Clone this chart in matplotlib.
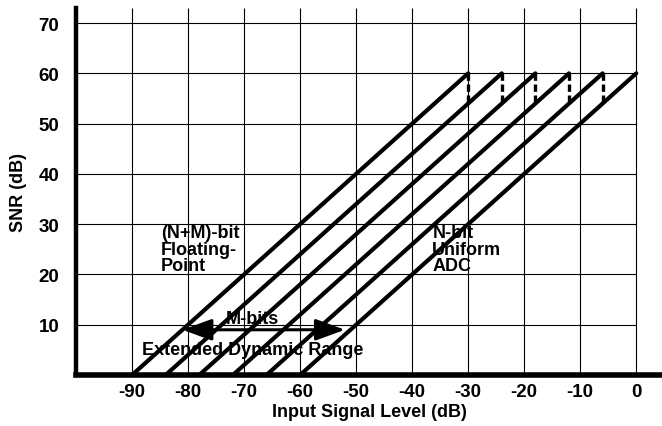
import matplotlib.pyplot as plt

# SNR vs input level for uniform ADCs of decreasing resolution (1-bit = 6 dB steps)
line_start = [-90, -84, -78, -72, -66, -60]   # input level where SNR = 0
line_end = [-30, -24, -18, -12, -6, 0]        # input level where SNR = 60
snr_low = [0, 0, 0, 0, 0, 0]
snr_high = [60, 60, 60, 60, 60, 60]

# dashed drops between adjacent curves at full scale
dash_x = [-30, -24, -18, -12, -6]
dash_top = [60, 60, 60, 60, 60]
dash_bottom = [54, 54, 54, 54, 54]

# M-bits extended range arrow
arrow_left, arrow_right, arrow_y = -81, -52, 9

xticks = [-90, -80, -70, -60, -50, -40, -30, -20, -10, 0]
yticks = [10, 20, 30, 40, 50, 60, 70]

plt.rcParams['font.family'] = ['Liberation Sans', 'DejaVu Sans']
plt.rcParams['font.weight'] = 'bold'
plt.rcParams['axes.unicode_minus'] = False

fig = plt.figure(figsize=(6.62, 4.27), dpi=100)
ax = fig.add_axes([0.1148, 0.1194, 0.8852, 0.8595])
ax.set_xlim(-100, 4.6)
ax.set_ylim(0, 73)

# grid drawn only inside the -100..0 / 0..73 box
ax.hlines(yticks, -100, 0, colors='black', lw=0.8, zorder=1)
ax.vlines(xticks, 0, 73, colors='black', lw=0.8, zorder=1)

for x0, x1, y0, y1 in zip(line_start, line_end, snr_low, snr_high):
    ax.plot([x0, x1], [y0, y1], color='black', lw=3.0, solid_capstyle='round', zorder=3)

for x, yt, yb in zip(dash_x, dash_top, dash_bottom):
    ax.plot([x, x], [yt, yb], color='black', lw=2.4, linestyle=(0, (2.2, 1.1)), zorder=3)

ax.annotate('', xy=(arrow_left, arrow_y), xytext=(arrow_right, arrow_y),
            arrowprops=dict(arrowstyle='<|-|>,head_length=0.6,head_width=0.22',
                            mutation_scale=30, color='black', lw=2.2,
                            shrinkA=0, shrinkB=0), zorder=4)

txt = dict(fontsize=13, fontweight='bold', color='black', zorder=5)
ax.text(-68.5, 11.3, 'M-bits', ha='center', va='center', **txt)
ax.text(-68.4, 5.0, 'Extended Dynamic Range', ha='center', va='center', **txt)
ax.text(-84.8, 30.0, '(N+M)-bit\nFloating-\nPoint', ha='left', va='top', linespacing=0.95, **txt)
ax.text(-36.4, 30.0, 'N-bit\nUniform\nADC', ha='left', va='top', linespacing=0.95, **txt)

ax.set_xticks(xticks)
ax.set_yticks(yticks)
ax.tick_params(length=0, labelsize=13.5)
ax.tick_params(axis='x', pad=6)
ax.tick_params(axis='y', pad=12)
for lab in ax.get_xticklabels() + ax.get_yticklabels():
    lab.set_fontweight('bold')

ax.set_xlabel('Input Signal Level (dB)', fontsize=13, fontweight='bold', labelpad=2)
ax.set_ylabel('SNR (dB)', fontsize=13, fontweight='bold', labelpad=8)

ax.spines['top'].set_visible(False)
ax.spines['right'].set_visible(False)
ax.spines['left'].set_linewidth(3.2)
ax.spines['bottom'].set_linewidth(4.0)

fig.savefig('out.png', dpi=100)
